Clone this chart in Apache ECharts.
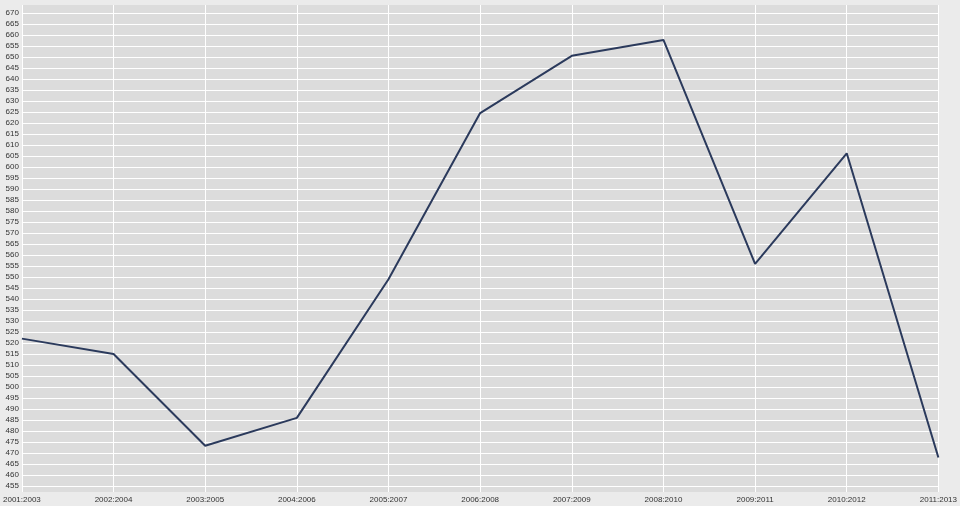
<!DOCTYPE html>
<html>
<head>
<meta charset="utf-8">
<script src="https://cdn.jsdelivr.net/npm/echarts@6/dist/echarts.min.js"></script>
<style>html,body{margin:0;padding:0;background:#ebebeb;}#c{width:960px;height:506px;}</style>
</head>
<body>
<div id="c"></div>
<script>
const categories = ['2001:2003','2002:2004','2003:2005','2004:2006','2005:2007','2006:2008','2007:2009','2008:2010','2009:2011','2010:2012','2011:2013'];
const values = [522, 515, 473.3, 486, 549, 624.5, 650.5, 657.7, 556, 606.2, 468];
const yTicks = [];
for (let v = 455; v <= 670; v += 5) yTicks.push(v);

const chart = echarts.init(document.getElementById('c'));
chart.setOption({
  backgroundColor: '#ebebeb',
  animation: false,
  grid: { left: 20, right: 20, top: 5, bottom: 14, show: true, backgroundColor: '#dcdcdc', borderWidth: 0 },
  xAxis: {
    type: 'category',
    data: categories,
    boundaryGap: false,
    axisLine: { show: false },
    axisTick: { show: false },
    axisLabel: { color: '#333', fontSize: 8, fontFamily: 'Liberation Sans, Arial, sans-serif', margin: 4, interval: 0 },
    splitLine: { show: true, lineStyle: { color: '#ffffff', width: 1 } }
  },
  yAxis: {
    type: 'value',
    min: 452.3,
    max: 673.6,
    axisLine: { show: false },
    axisTick: { show: false, customValues: yTicks },
    axisLabel: { color: '#333', fontSize: 8, fontFamily: 'Liberation Sans, Arial, sans-serif', margin: 3, customValues: yTicks },
    splitLine: { show: true, lineStyle: { color: '#ffffff', width: 1 } }
  },
  series: [{
    type: 'line',
    data: values,
    showSymbol: false,
    lineStyle: { color: '#2b3a5c', width: 2 },
    itemStyle: { color: '#2b3a5c' }
  }]
});
</script>
</body>
</html>
